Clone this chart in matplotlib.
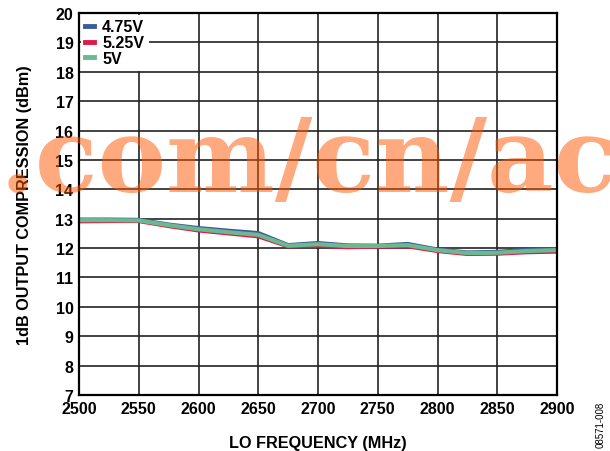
"""1dB output compression vs LO frequency for three supply voltages."""
import matplotlib
matplotlib.use("Agg")
import matplotlib.pyplot as plt
import numpy as np

plt.rcParams["font.family"] = ["Liberation Sans", "DejaVu Sans"]

lo_freq = np.arange(2500, 2901, 25)
p1db_475 = [12.97, 12.97, 12.96, 12.80, 12.68, 12.59, 12.51, 12.10, 12.17,
            12.09, 12.08, 12.14, 11.95, 11.85, 11.87, 11.94, 11.96]
p1db_525 = [12.91, 12.92, 12.92, 12.75, 12.60, 12.50, 12.40, 12.06, 12.08,
            12.03, 12.05, 12.06, 11.90, 11.80, 11.81, 11.86, 11.88]
p1db_500 = [12.95, 12.95, 12.94, 12.78, 12.64, 12.54, 12.45, 12.08, 12.13,
            12.07, 12.07, 12.10, 11.93, 11.83, 11.84, 11.90, 11.93]

fig = plt.figure(figsize=(6.10, 4.52), dpi=100)
ax = fig.add_axes([79 / 610, 1 - 396 / 452, (557 - 79) / 610, (396 - 14) / 452])

ax.plot(lo_freq, p1db_475, color="#3b5c9c", lw=3, label="4.75V")
ax.plot(lo_freq, p1db_525, color="#e0174a", lw=3, label="5.25V")
ax.plot(lo_freq, p1db_500, color="#6cb98f", lw=3, label="5V")

ax.set_xlim(2500, 2900)
ax.set_ylim(7, 20)
ax.set_xticks(np.arange(2500, 2901, 50))
ax.set_yticks(np.arange(7, 21, 1))
ax.grid(True, color="#222222", lw=1.2)
ax.set_axisbelow(True)
for s in ax.spines.values():
    s.set_linewidth(1.6)
ax.tick_params(length=0, pad=4, labelsize=11.5)
for lab in ax.get_xticklabels() + ax.get_yticklabels():
    lab.set_fontweight("bold")

ax.set_xlabel("LO FREQUENCY (MHz)", fontsize=11.7, fontweight="bold", labelpad=14)
ax.set_ylabel("1dB OUTPUT COMPRESSION (dBm)", fontsize=11.7, fontweight="bold",
              labelpad=17)

leg = ax.legend(loc="upper left", frameon=True, fancybox=False, framealpha=1,
                facecolor="white", edgecolor="none", handlelength=0.55,
                handletextpad=0.5, labelspacing=0.05, borderpad=0.3,
                borderaxespad=0.1, prop={"weight": "bold", "size": 11.5})
for h in leg.get_lines():
    h.set_linewidth(3.5)

fig.text(601 / 610, 1 - 425 / 452, "08571-008", rotation=90, fontsize=7,
         ha="center", va="center")

# scraped-page watermark
fig.text(0.0, 1 - 192 / 452, ".com/cn/ac", family="DejaVu Serif", weight="bold",
         fontsize=74, color="#ff5500", alpha=0.5, ha="left", va="baseline",
         zorder=10)

fig.savefig("out.png", dpi=100)
